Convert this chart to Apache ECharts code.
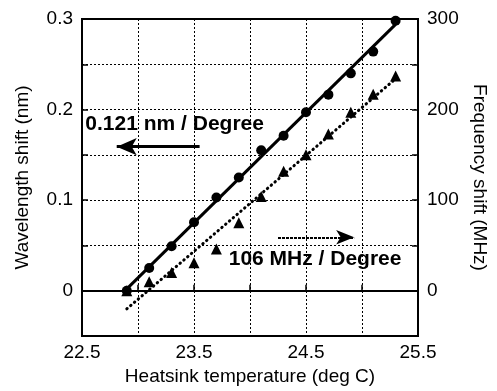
<!DOCTYPE html>
<html>
<head>
<meta charset="utf-8">
<script src="https://cdn.jsdelivr.net/npm/echarts@6/dist/echarts.min.js"></script>
<style>
html,body{margin:0;padding:0;background:#fff;}
#chart{width:497px;height:391px;}
</style>
</head>
<body>
<div id="chart"></div>
<script>
// ---- data ----
const temperatures = [22.9, 23.1, 23.3, 23.5, 23.7, 23.9, 24.1, 24.3, 24.5, 24.7, 24.9, 25.1, 25.3];
const wavelengthShift = [0, 0.025, 0.049, 0.0755, 0.103, 0.125, 0.155, 0.171, 0.197, 0.2165, 0.240, 0.264, 0.298];
const frequencyShift = [0, 10, 20, 31, 46, 75, 104, 132, 150, 173, 197, 217, 237];
const wavelengthFitX = [22.9, 25.3];
const wavelengthFitY = [0.002, 0.294];
const frequencyFitX = [22.9, 25.3];
const frequencyFitY = [-20, 234];
const xTickLabels = ['22.5', '23.5', '24.5', '25.5'];
const leftTickLabels = ['0', '0.1', '0.2', '0.3'];
const rightTickLabels = ['0', '100', '200', '300'];
const annotationTexts = ['0.121 nm / Degree', '106 MHz / Degree'];
// annotation anchors in data coordinates (temperature, wavelength shift)
const annotationAnchors = [[22.53, 0.1835], [23.81, 0.035]];
const arrowWavelength = [[23.55, 0.159], [22.81, 0.159]];
const arrowFrequency = [[24.25, 0.059], [24.93, 0.059]];

const FONT = '"Liberation Sans", Arial, Helvetica, sans-serif';
const chart = echarts.init(document.getElementById('chart'), null, {renderer: 'canvas'});

const pair = (xs, ys) => xs.map((x, i) => [x, ys[i]]);
const near = (a, b) => Math.abs(a - b) < 1e-6;

const splitStyle = {show: true, lineStyle: {color: '#000', width: 1, type: [2, 2]}};
const tickStyle = {show: true, inside: true, length: 6, lineStyle: {color: '#000', width: 1.5}};
const axisLineStyle = {show: true, lineStyle: {color: '#000', width: 2}};
const labelStyle = {color: '#000', fontFamily: FONT, fontSize: 19};
const nameStyle = {color: '#000', fontFamily: FONT, fontSize: 19};

const option = {
  animation: false,
  backgroundColor: '#fff',
  grid: {left: 82, right: 74, top: 19, bottom: 54, show: true, borderColor: '#000', borderWidth: 2},
  xAxis: {
    type: 'value', min: 22.5, max: 25.5, interval: 0.5,
    name: 'Heatsink temperature (deg C)', nameLocation: 'middle', nameGap: 31,
    nameTextStyle: nameStyle,
    axisLine: axisLineStyle, axisTick: tickStyle, splitLine: splitStyle,
    axisLabel: Object.assign({margin: 7, formatter: v => {
      const s = v.toFixed(1); return xTickLabels.indexOf(s) >= 0 ? s : '';
    }}, labelStyle)
  },
  yAxis: [
    {
      type: 'value', min: -0.05, max: 0.3, interval: 0.05, position: 'left',
      name: 'Wavelength shift (nm)', nameLocation: 'middle', nameGap: 50,
      nameTextStyle: nameStyle,
      axisLine: axisLineStyle, axisTick: tickStyle, splitLine: splitStyle,
      axisLabel: Object.assign({margin: 9, formatter: v => {
        for (const t of leftTickLabels) { if (near(parseFloat(t), v)) return t; }
        return '';
      }}, labelStyle)
    },
    {
      type: 'value', min: -50, max: 300, interval: 50, position: 'right',
      name: 'Frequency shift (MHz)', nameLocation: 'middle', nameGap: 52, nameRotate: -90,
      nameTextStyle: nameStyle,
      axisLine: axisLineStyle, axisTick: tickStyle, splitLine: {show: false},
      axisLabel: Object.assign({margin: 9, formatter: v => {
        for (const t of rightTickLabels) { if (near(parseFloat(t), v)) return t; }
        return '';
      }}, labelStyle)
    }
  ],
  series: [
    {
      name: 'Wavelength fit', type: 'line', yAxisIndex: 0, data: pair(wavelengthFitX, wavelengthFitY),
      showSymbol: false, lineStyle: {color: '#000', width: 3}, z: 3,
      markLine: {
        silent: true, symbol: ['none', 'arrow'], symbolSize: [13, 20], label: {show: false},
        lineStyle: {color: '#000', width: 3, type: 'solid'},
        data: [[{coord: arrowWavelength[0]}, {coord: arrowWavelength[1]}]]
      }
    },
    {
      name: 'Frequency fit', type: 'line', yAxisIndex: 1, data: pair(frequencyFitX, frequencyFitY),
      showSymbol: false, lineStyle: {color: '#000', width: 3, type: [0.5, 4.5], cap: 'round'}, z: 3
    },
    {
      name: 'Wavelength shift', type: 'scatter', yAxisIndex: 0, data: pair(temperatures, wavelengthShift),
      symbol: 'circle', symbolSize: 10, itemStyle: {color: '#000', opacity: 1}, z: 5,
      markLine: {
        silent: true, symbol: ['none', 'arrow'], symbolSize: [11, 18], label: {show: false},
        lineStyle: {color: '#000', width: 2, type: [3, 1]},
        data: [[{coord: arrowFrequency[0]}, {coord: arrowFrequency[1]}]]
      }
    },
    {
      name: 'Frequency shift', type: 'scatter', yAxisIndex: 1, data: pair(temperatures, frequencyShift),
      symbol: 'triangle', symbolSize: 11, itemStyle: {color: '#000', opacity: 1}, z: 5
    }
  ]
};
chart.setOption(option);

const graphics = annotationTexts.map((t, i) => {
  const p = chart.convertToPixel({xAxisIndex: 0, yAxisIndex: 0}, annotationAnchors[i]);
  return {
    type: 'text', x: p[0], y: p[1], z: 10,
    style: {text: t, fill: '#000', font: 'bold 21px ' + FONT, textAlign: 'left', textVerticalAlign: 'middle'}
  };
});
chart.setOption({graphic: graphics});
</script>
</body>
</html>
